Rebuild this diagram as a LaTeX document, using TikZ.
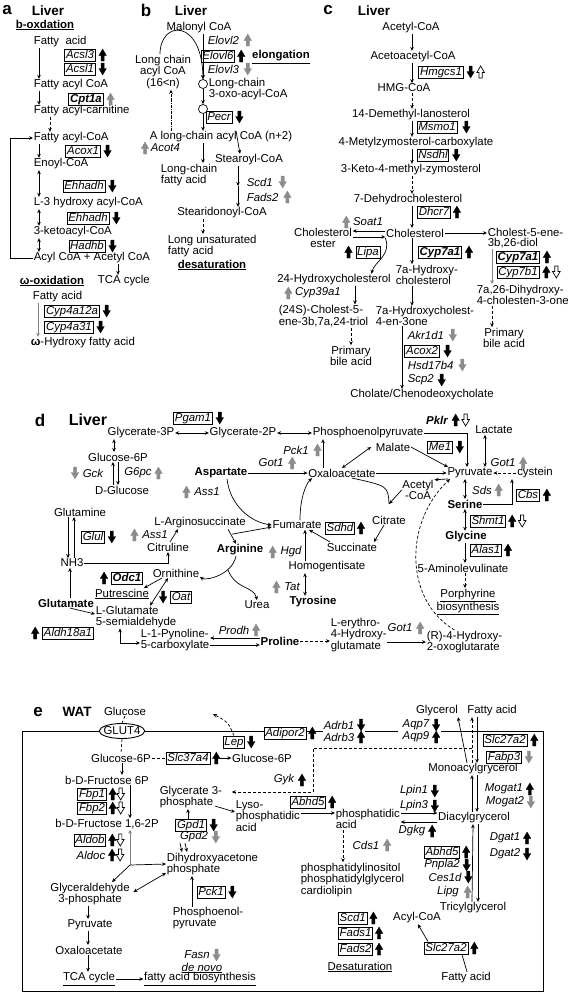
\documentclass[tikz,border=0pt]{standalone}
\usepackage{fontspec}
\setmainfont{Liberation Sans}
\usetikzlibrary{arrows.meta,shapes.geometric}
\newcommand\pletter{\fontsize{17}{17}\selectfont\bfseries}
\newcommand\ptitle{\fontsize{13.5}{14}\selectfont\bfseries}
\tikzset{
  gene/.style={draw,fill=white,line width=0.8pt,font=\itshape,inner xsep=1.3pt,inner ysep=0.8pt,text height=8.3pt,text depth=2.2pt},
  bgene/.style={gene,font=\bfseries\itshape},
  enz/.style={font=\itshape},
  lbl/.style={font=\bfseries},
  pics/fcup/.style={code={\filldraw[#1] (-1.6,6) -- (-1.6,0.5) -- (-3.8,0.5) -- (0,-6) -- (3.8,0.5) -- (1.6,0.5) -- (1.6,6) -- cycle;}},
  pics/fcdn/.style={code={\filldraw[#1] (-1.6,-6) -- (-1.6,-0.5) -- (-3.8,-0.5) -- (0,6) -- (3.8,-0.5) -- (1.6,-0.5) -- (1.6,-6) -- cycle;}},
  fb/.style={fill=black,draw=black,line width=0.3pt},
  fg/.style={fill=black!45,draw=black!45,line width=0.3pt},
  fw/.style={fill=white,draw=black,line width=0.7pt},
}
\begin{document}
\fontsize{11.4}{10.4}\selectfont
\begin{tikzpicture}[x=1pt,y=-1pt,line width=0.7pt,>={Stealth[length=4pt,width=3.6pt]},every node/.style={inner sep=0.5pt}]
  \useasboundingbox (0,0) rectangle (568,994);
  \node[font=\pletter]          (la)     at (  7, 10) {a};
  \node[font=\ptitle]           (liva)   at ( 48, 11) {Liver};
  \node[lbl]                    (boxd)   at ( 45, 25) {\underline{b-oxdation}};
  \node[anchor=west]            (fa1)    at ( 33, 42) {Fatty\ \ acid};
  \node[gene]                   (acsl3)  at ( 80, 55) {Acsl3};
  \node[gene]                   (acsl1)  at ( 80, 69) {Acsl1};
  \node[anchor=west]            (fac1)   at ( 33, 85) {Fatty acyl CoA};
  \node[bgene]                  (cpt1a)  at ( 86, 99) {Cpt1a};
  \node[anchor=west]            (facar)  at ( 33,111) {Fatty acyl-carnitine};
  \node[anchor=west]            (fac2)   at ( 33,138) {Fatty acyl-CoA};
  \node[gene]                   (acox1)  at ( 83,151) {Acox1};
  \node[anchor=west]            (enoyl)  at ( 33,164) {Enoyl-CoA};
  \node[gene]                   (ehh1)   at ( 84,186) {Ehhadh};
  \node[anchor=west]            (l3h)    at ( 33,203) {L-3 hydroxy acyl-CoA};
  \node[gene]                   (ehh2)   at ( 88,218) {Ehhadh};
  \node[anchor=west]            (keto)   at ( 33,232) {3-ketoacyl-CoA};
  \node[gene]                   (hadhb)  at ( 87,246) {Hadhb};
  \node[anchor=west]            (acyl)   at ( 33,258) {Acyl CoA + Acetyl CoA};
  \node[lbl]                    (omox)   at ( 52,281) {\underline{ω-oxidation}};
  \node[anchor=west]            (tca)    at ( 97,281) {TCA cycle};
  \node[anchor=west]            (fa2)    at ( 32,297) {Fatty acid};
  \node[gene]                   (cyp12)  at ( 72,311) {Cyp4a12a};
  \node[gene]                   (cyp31)  at ( 69,327) {Cyp4a31};
  \node[anchor=west]            (ohfa)   at ( 30,343) {\textbf{ω}-Hydroxy fatty acid};
  \pic at ([xshift=7pt]acsl3.east) {fcup=fb};
  \pic at ([xshift=7pt]acsl1.east) {fcdn=fb};
  \pic at ([xshift=7pt]cpt1a.east) {fcup=fg};
  \pic at ([xshift=7pt]acox1.east) {fcdn=fb};
  \pic at ([xshift=7pt]ehh1.east)  {fcdn=fb};
  \pic at ([xshift=7pt]ehh2.east)  {fcdn=fb};
  \pic at ([xshift=7pt]hadhb.east) {fcdn=fb};
  \pic at ([xshift=7pt]cyp12.east) {fcdn=fb};
  \pic at ([xshift=7pt]cyp31.east) {fcdn=fb};
  \draw[->]  ([xshift=6pt]fa1.south west)   -- ([xshift=6pt]fac1.north west);
  \draw[->]  ([xshift=6pt]fac1.south west)  -- ([xshift=6pt]facar.north west);
  \draw[->,densely dashed] ([xshift=17pt]facar.south west) -- ([xshift=17pt]fac2.north west);
  \draw[->]  ([xshift=6pt]fac2.south west)  -- ([xshift=6pt]enoyl.north west);
  \draw[<->] ([xshift=6pt]enoyl.south west) -- ([xshift=6pt]l3h.north west);
  \draw[<->] ([xshift=6pt]l3h.south west)   -- ([xshift=6pt]keto.north west);
  \draw[<->] ([xshift=6pt]keto.south west)  -- ([xshift=6pt]acyl.north west);
  \draw[->]  (acyl.west) -- ++(-23,0) |- (fac2.west);
  \draw[->]  ([xshift=85pt]acyl.south west) -- ([xshift=21pt]tca.north west);
  \draw[->,black!50] ([xshift=6pt]fa2.south west) -- ([xshift=8pt]ohfa.north west);

  \node[font=\pletter]          (lb)     at (146, 10) {b};
  \node[font=\ptitle]           (livb)   at (191, 11) {Liver};
  \node                         (malo)   at (199, 28) {Malonyl CoA};
  \node[enz,anchor=west]        (elo2)   at (207, 40) {Elovl2};
  \node[gene]                   (elo6)   at (218, 56) {Elovl6};
  \node[lbl]                    (elong)  at (281, 57) {\underline{elongation}};
  \node[enz,anchor=west]        (elo3)   at (207, 69) {Elovl3};
  \node[align=center]           (lcac)   at (163, 72) {Long chain\\acyl CoA\\(16<n)};
  \node[circle,draw,minimum size=9pt,inner sep=0pt] (cir1) at (203, 84) {};
  \node[anchor=west,align=left] (oxo)    at (208, 89) {Long-chain\\3-oxo-acyl-CoA};
  \node[circle,draw,minimum size=9pt,inner sep=0pt] (cir2) at (203,109) {};
  \node[gene]                   (pecr)   at (219,117) {Pecr};
  \node                         (alc)    at (221,137) {A long-chain acyl CoA (n+2)};
  \node[enz,anchor=west]        (acot)   at (150,148) {Acot4};
  \node                         (stea)   at (249,160) {Stearoyl-CoA};
  \node[anchor=west,align=left] (lcfa)   at (160,175) {Long-chain\\fatty acid};
  \node[enz,anchor=west]        (scd1b)  at (246,182) {Scd1};
  \node[enz,anchor=west]        (fads2b) at (246,197) {Fads2};
  \node                         (sted)   at (222,213) {Stearidonoyl-CoA};
  \node[anchor=west,align=left] (lufa)   at (167,246) {Long unsaturated\\fatty acid};
  \node[lbl]                    (desb)   at (212,265) {\underline{desaturation}};
  \coordinate                   (sm)     at (238,186);
  \pic at ([xshift=8pt]elo2.east)   {fcup=fg};
  \pic at ([xshift=6pt]elo6.east)   {fcup=fb};
  \pic at ([xshift=8pt]elo3.east)   {fcdn=fg};
  \pic at ([xshift=7pt]pecr.east)   {fcdn=fb};
  \pic at ([xshift=-5pt]acot.west)  {fcup=fg};
  \pic at ([xshift=9pt]scd1b.east)  {fcdn=fg};
  \pic at ([xshift=8pt]fads2b.east) {fcup=fg};
  \draw[->] (malo.south -| cir1) -- (cir1.north);
  \draw[->] ([xshift=-3pt]lcac.north) .. controls (160,20) and (202,18) .. (cir1.north);
  \draw[->] (cir1.south) -- (cir2.north);
  \draw[->] (cir2.south) -- (alc.north -| cir2);
  \draw[->,densely dashdotted] ([xshift=8pt]lcac.south |- alc.north) -- ([xshift=8pt]lcac.south);
  \draw[->] (alc.south -| cir2) -- (lcfa.north -| cir2);
  \draw[->] ([xshift=87pt]alc.north west) -- ([xshift=-9pt]stea.north);
  \draw[->] (stea.south -| sm) -- (sm);
  \draw[->] (sm) -- (sted.north -| sm);
  \draw[->,densely dashed] (sted.south -| cir2) -- (lufa.north -| cir2);

  \node[font=\pletter]          (lc)     at (328, 10) {c};
  \node[font=\ptitle]           (livc)   at (374, 11) {Liver};
  \coordinate                   (cx)     at (412,  0);
  \node                         (acc)    at (411, 28) {Acetyl-CoA};
  \node                         (aacc)   at (413, 57) {Acetoacetyl-CoA};
  \node[gene]                   (hmgcs1) at (441, 72) {Hmgcs1};
  \node                         (hmg)    at (404, 88) {HMG-CoA};
  \node                         (dml)    at (411,115) {14-Demethyl-lanosterol};
  \node[gene]                   (msmo1)  at (437,127) {Msmo1};
  \node                         (mzc)    at (416,143) {4-Metylzymosterol-carboxylate};
  \node[gene]                   (nsdhl)  at (433,155) {Nsdhl};
  \node                         (kmz)    at (411,170) {3-Keto-4-methyl-zymosterol};
  \node                         (dhc)    at (408,200) {7-Dehydrocholesterol};
  \node[gene]                   (dhcr7)  at (434,212) {Dhcr7};
  \node[enz]                    (soat)   at (368,222) {Soat1};
  \node[align=center]           (chest)  at (323,238) {Cholesterol\\ester};
  \node                         (chol)   at (415,233) {Cholesterol};
  \node[anchor=west,align=left] (c5e)    at (487,238) {Cholest-5-ene-\\3b,26-diol};
  \node[gene]                   (lipa)   at (368,252) {Lipa};
  \node[bgene]                  (cyp7a)  at (440,252) {Cyp7a1};
  \node[bgene]                  (cyp7a2) at (518,257) {Cyp7a1};
  \node[gene]                   (cyp7b1) at (518,272) {Cyp7b1};
  \node[anchor=west,align=left] (h7a)    at (395,275) {7a-Hydroxy-\\cholesterol};
  \node                         (h24)    at (334,280) {24-Hydroxycholesterol};
  \node[enz]                    (cyp39)  at (318,293) {Cyp39a1};
  \node[anchor=west,align=left] (d26)    at (476,295) {7a,26-Dihydroxy-\\4-cholesten-3-one};
  \node[anchor=west,align=left] (ch5)    at (278,316) {(24S)-Cholest-5-\\ene-3b,7a,24-triol};
  \node[anchor=west,align=left] (h7c)    at (375,316) {7a-Hydroxycholest-\\4-en-3one};
  \node[align=center]           (pba2)   at (504,338) {Primary\\bile acid};
  \node[enz,anchor=west]        (akr)    at (407,335) {Akr1d1};
  \node[gene]                   (acox2)  at (422,351) {Acox2};
  \node[align=center]           (pba1)   at (351,356) {Primary\\bile acid};
  \node[enz,anchor=west]        (hsd)    at (407,365) {Hsd17b4};
  \node[enz,anchor=west]        (scp2)   at (407,380) {Scp2};
  \node                         (chen)   at (422,395) {Cholate/Chenodeoxycholate};
  \pic at ([xshift=7pt]hmgcs1.east)  {fcdn=fb};
  \pic at ([xshift=17pt]hmgcs1.east) {fcup=fw};
  \pic at ([xshift=9pt]msmo1.east)   {fcdn=fb};
  \pic at ([xshift=7pt]nsdhl.east)   {fcdn=fb};
  \pic at ([xshift=6pt]dhcr7.east)   {fcup=fb};
  \pic at ([xshift=-6pt]soat.west)   {fcup=fg};
  \pic at ([xshift=-7pt]lipa.west)   {fcup=fb};
  \pic at ([xshift=7pt]cyp7a.east)   {fcup=fb};
  \pic at ([xshift=7pt]cyp7a2.east)  {fcup=fb};
  \pic at ([xshift=7pt]cyp7b1.east)  {fcup=fb};
  \pic at ([xshift=17pt]cyp7b1.east) {fcdn=fw};
  \pic at ([xshift=-6pt]cyp39.west)  {fcup=fg};
  \pic at ([xshift=8pt]akr.east)     {fcdn=fg};
  \pic at ([xshift=8pt]acox2.east)   {fcdn=fb};
  \pic at ([xshift=8pt]hsd.east)     {fcdn=fg};
  \pic at ([xshift=7pt]scp2.east)    {fcdn=fb};
  \draw[->] (acc.south -| cx)  -- (aacc.north -| cx);
  \draw[->] (aacc.south -| cx) -- (hmg.north -| cx);
  \draw[->,densely dashed] (hmg.south -| cx) -- (dml.north -| cx);
  \draw[->] (dml.south -| cx)  -- (mzc.north -| cx);
  \draw[->] (mzc.south -| cx)  -- (kmz.north -| cx);
  \draw[->,densely dashed] (kmz.south -| cx) -- (dhc.north -| cx);
  \draw[->] (dhc.south -| cx)  -- (chol.north -| cx);
  \draw[->] ([yshift=2pt]chol.west) -- ([yshift=2pt]chol.west -| chest.east);
  \draw[->] ([yshift=-4pt]chol.west -| chest.east) -- ([yshift=-4pt]chol.west);
  \draw[->] (chol.south west) .. controls (392,255) and (374,262) .. ([xshift=-20pt]h24.north east);
  \draw[->] (chol.east) -- (c5e.west |- chol.east);
  \draw[->] (chol.south -| cx) -- (h7a.north -| cx);
  \draw[->] (h7a.south -| cx)  -- (h7c.north -| cx);
  \draw[->,black!50] ([xshift=5pt]c5e.south west) -- ([xshift=16pt]d26.north west);
  \draw[->,densely dashed] ([xshift=16pt]d26.south west) -- ([xshift=-12pt]pba2.north);
  \draw[->] ([xshift=21pt]h24.south) -- ([xshift=21pt]h24.south |- ch5.north);
  \draw[->,densely dashed] (ch5.south -| pba1) -- (pba1.north);
  \draw[->] ([xshift=27pt]h7c.south west) -- ([xshift=27pt]h7c.south west |- chen.north);

  \node[font=\pletter]          (ld)     at ( 40,420) {d};
  \node[font=\fontsize{16}{16}\selectfont\bfseries] (livd) at (88,420) {Liver};
  \node[gene]                   (pgam1)  at (193,418) {Pgam1};
  \node[font=\bfseries\itshape] (pklr)   at (437,420) {Pklr};
  \node                         (g3p)    at (141,433) {Glycerate-3P};
  \node                         (g2p)    at (243,433) {Glycerate-2P};
  \node                         (pep)    at (368,433) {Phosphoenolpyruvate};
  \node                         (lact)   at (494,430) {Lactate};
  \node                         (mal)    at (393,447) {Malate};
  \node[gene]                   (me1)    at (440,447) {Me1};
  \node[enz]                    (pck1d)  at (296,450) {Pck1};
  \node                         (g6p)    at (118,457) {Glucose-6P};
  \node[enz]                    (got1a)  at (271,463) {Got1};
  \node[enz]                    (got1c)  at (503,463) {Got1};
  \node[enz]                    (gck)    at ( 93,473) {Gck};
  \node[enz]                    (g6pc)   at (138,473) {G6pc};
  \node[lbl]                    (asp)    at (221,473) {Aspartate};
  \node                         (oaa)    at (342,473) {Oxaloacetate};
  \node                         (pyr)    at (470,473) {Pyruvate};
  \node                         (cys)    at (535,473) {cystein};
  \node[align=center]           (acoa)   at (418,490) {Acetyl\\-CoA};
  \node                         (dglc)   at (122,490) {D-Glucose};
  \node[enz]                    (sds)    at (482,490) {Sds};
  \node[enz]                    (ass1b)  at (207,492) {Ass1};
  \node[gene]                   (cbs)    at (528,495) {Cbs};
  \node[lbl]                    (ser)    at (465,504) {Serine};
  \coordinate                   (cj)     at (389,504);
  \node                         (gln)    at ( 80,512) {Glutamine};
  \node                         (citr)   at (389,520) {Citrate};
  \node[gene]                   (shmt1)  at (488,521) {Shmt1};
  \node                         (arsu)   at (200,523) {L-Arginosuccinate};
  \node                         (fum)    at (297,525) {Fumarate};
  \node[gene]                   (sdhd)   at (340,528) {Sdhd};
  \node[enz]                    (ass1a)  at (155,535) {Ass1};
  \node[gene]                   (glul)   at ( 93,537) {Glul};
  \node[lbl]                    (gly)    at (466,537) {Glycine};
  \node                         (cit)    at (168,547) {Citruline};
  \node                         (succ)   at (352,547) {Succinate};
  \node[lbl]                    (arg)    at (240,550) {Arginine};
  \node[gene]                   (alas1)  at (486,550) {Alas1};
  \node[enz]                    (hgd)    at (291,552) {Hgd};
  \node                         (nh3)    at ( 72,563) {NH3};
  \node                         (hom)    at (327,567) {Homogentisate};
  \node                         (ala)    at (463,568) {5-Aminolevulinate};
  \node                         (orn)    at (176,573) {Ornithine};
  \coordinate                   (argb)   at (228,570);
  \node[bgene]                  (odc1)   at (127,578) {Odc1};
  \node[enz]                    (tat)    at (292,587) {Tat};
  \node[gene]                   (oat)    at (181,597) {Oat};
  \node[align=center]           (porph)  at (468,602) {\underline{Porphyrine}\\\underline{biosynthesis}};
  \node                         (put)    at (122,594) {\underline{Putrescine}};
  \node[lbl]                    (glu)    at ( 66,603) {Glutamate};
  \node[lbl]                    (tyr)    at (313,602) {Tyrosine};
  \node                         (urea)   at (257,605) {Urea};
  \node[anchor=west,align=left] (lgsa)   at ( 95,617) {L-Glutamate\\5-semialdehyde};
  \node[enz]                    (got1b)  at (400,628) {Got1};
  \node[enz]                    (prodh)  at (234,630) {Prodh};
  \node[gene]                   (aldh)   at ( 68,633) {Aldh18a1};
  \node[anchor=west,align=left] (ehg)    at (330,635) {L-erythro-\\4-Hydroxy-\\glutamate};
  \node[anchor=west,align=left] (p5c)    at (140,640) {L-1-Pynoline-\\5-carboxylate};
  \node[lbl]                    (pro)    at (280,641) {Proline};
  \node[anchor=west,align=left] (rho)    at (426,642) {(R)-4-Hydroxy-\\2-oxoglutarate};
  \pic at ([xshift=7pt]pgam1.east)  {fcdn=fb};
  \pic at ([xshift=7pt]pklr.east)   {fcup=fb};
  \pic at ([xshift=17pt]pklr.east)  {fcdn=fw};
  \pic at ([xshift=7pt]me1.east)    {fcdn=fb};
  \pic at ([xshift=8pt]pck1d.east)  {fcup=fg};
  \pic at ([xshift=8pt]got1a.east)  {fcup=fg};
  \pic at ([xshift=7pt]got1c.east)  {fcup=fg};
  \pic at ([xshift=-7pt]gck.west)   {fcdn=fg};
  \pic at ([xshift=6pt]g6pc.east)   {fcup=fg};
  \pic at ([xshift=-7pt]ass1b.west) {fcup=fg};
  \pic at ([xshift=-7pt]ass1a.west) {fcup=fg};
  \pic at ([xshift=6pt]sds.east)    {fcup=fg};
  \pic at ([xshift=7pt]cbs.east)    {fcup=fb};
  \pic at ([xshift=6pt]shmt1.east)  {fcup=fb};
  \pic at ([xshift=16pt]shmt1.east) {fcdn=fw};
  \pic at ([xshift=6pt]sdhd.east)   {fcup=fb};
  \pic at ([xshift=6pt]alas1.east)  {fcup=fb};
  \pic at ([xshift=-7pt]hgd.west)   {fcup=fg};
  \pic at ([xshift=-7pt]tat.west)   {fcup=fg};
  \pic at ([xshift=-7pt]odc1.west)  {fcup=fb};
  \pic at ([xshift=-7pt]oat.west)   {fcdn=fb};
  \pic at ([xshift=7pt]got1b.east)  {fcup=fg};
  \pic at ([xshift=6pt]prodh.east)  {fcup=fg};
  \pic at ([xshift=-7pt]aldh.west)  {fcup=fb};
  \pic at ([xshift=7pt]glul.east)   {fcdn=fb};
  \draw[<->] (g3p.east) -- (g2p.west);
  \draw[<->] (g2p.east) -- (pep.west);
  \draw[<->] ([xshift=-27pt]g3p.south) -- ([xshift=-4pt]g6p.north);
  \draw[->]  ([xshift=-9pt]dglc.north) -- ([xshift=-5pt]g6p.south);
  \draw[->]  (g6p.south) -- ([xshift=-4pt]dglc.north);
  \draw[->]  ([xshift=-12pt]gln.south) -- ([xshift=-4pt]nh3.north);
  \draw[->]  ([xshift=2pt]nh3.north) -- ([xshift=-6pt]gln.south);
  \draw[->]  ([xshift=4pt]glu.north) -- ([xshift=-2pt]nh3.south);
  \draw[->]  (nh3.east) -| (cit.south);
  \draw[->]  ([xshift=2pt]cit.north) -- ([xshift=-22pt]arsu.south);
  \draw[->]  ([xshift=-14pt]orn.south) -- ([xshift=22pt]put.north);
  \draw[<->] ([xshift=-8pt]orn.south) -- ([xshift=55pt]lgsa.north west);
  \draw[->]  ([xshift=4pt]glu.south) -- ([yshift=3pt]lgsa.west);
  \draw[<->] ([xshift=25pt]lgsa.south west) |- ([yshift=-3pt]p5c.west);
  \draw[->]  (asp.east) -- (oaa.west);
  \draw[->]  ([xshift=-19pt]oaa.north) -- ([xshift=-45pt]pep.south);
  \draw[->]  ([xshift=6pt]asp.south) .. controls (230,505) and (250,522) .. (fum.west);
  \draw[->]  ([xshift=28pt]arsu.south) -- ([xshift=-4pt]arg.north);
  \draw[->]  ([xshift=32pt,yshift=-5pt]arsu.south) -- ([yshift=-2pt]fum.west);
  \draw[->]  ([xshift=-22pt]succ.north) -- ([xshift=12pt]fum.south);
  \draw[->]  ([xshift=3pt]fum.north) .. controls (300,500) and (305,485) .. ([xshift=-30pt]oaa.south);
  \draw[->]  ([xshift=-22pt]hom.north) -- ([xshift=8pt]fum.south);
  \draw[<->] ([xshift=-22pt]hom.south) -- ([xshift=-8pt]tyr.north);
  \draw[->]  ([xshift=-4pt]arg.south) .. controls (232,575) and (206,581) .. ([yshift=-4pt]orn.east);
  \draw[->]  (argb) .. controls (236,590) and (254,586) .. (urea.north);
  \draw[->]  ([yshift=3pt]pro.west) -- ([yshift=3pt]pro.west -| p5c.east);
  \draw[->]  ([yshift=-4pt]pro.west -| p5c.east) -- ([yshift=-4pt]pro.west);
  \draw[->,densely dashed] (pro.east) -- (ehg.west |- pro.east);
  \draw[->]  (ehg.east |- rho.west) -- (rho.west);
  \draw[<->] (oaa.north) -- ([xshift=-4pt]mal.west);
  \draw[->]  (mal.east) -- ([xshift=-22pt]pyr.north);
  \draw[->]  (pep.east) -| ([xshift=-3pt]pyr.north);
  \draw[->]  (oaa.east) -- (pyr.west);
  \draw[<->] ([xshift=-9pt]lact.south) -- ([xshift=15pt]pyr.north);
  \draw[->,densely dashed] (cys.west) -- (pyr.east);
  \draw[->]  ([xshift=-22pt]pyr.south) -- (acoa.north east);
  \draw      ([xshift=10pt]oaa.south) .. controls (388,486) .. (cj);
  \draw[->]  (acoa.west) -- (cj);
  \draw[->]  ([xshift=-5pt]citr.south) -- ([xshift=22pt]succ.north);
  \draw[<->] ([xshift=-5pt]pyr.south) -- (ser.north);
  \draw[->]  (ser.east) -| ([xshift=-23pt]cys.south);
  \draw[<->] (ser.south) -- ([xshift=-1pt]gly.north);
  \draw[->]  ([xshift=-1pt]gly.south) -- ([xshift=2pt]ala.north);
  \draw[->,densely dashed] ([xshift=2pt]ala.south) -- ([xshift=-3pt]porph.north);
  \draw[->,densely dashed] ([xshift=-10pt]rho.north) .. controls (404,600) and (404,522) .. ([xshift=-20pt]pyr.south);

  \draw (323,731) -- (22,731) -- (22,991) -- (543,991) -- (543,731) -- (441,731);
  \draw (365,731) -- (398,731);
  \node[font=\pletter]          (le)     at ( 38,712) {e};
  \node[font=\ptitle]           (wat)    at ( 77,712) {WAT};
  \node                         (glc)    at (125,711) {Glucose};
  \node                         (glyc)   at (437,711) {Glycerol};
  \node                         (fae1)   at (492,711) {Fatty acid};
  \node[ellipse,draw,fill=white,line width=0.9pt,inner xsep=-2.3pt,inner ysep=0.3pt,text height=8pt,text depth=2pt] (glut4) at (122,731) {GLUT4};
  \node                         (g6pe)   at (121,758) {Glucose-6P};
  \node[gene]                   (slc37)  at (188,758) {Slc37a4};
  \node                         (g6pr)   at (262,758) {Glucose-6P};
  \node[gene]                   (lep)    at (234,742) {Lep};
  \node[gene]                   (adipor2) at (285,733) {Adipor2};
  \node[enz]                    (adrb1)  at (339,725) {Adrb1};
  \node[enz]                    (adrb3)  at (339,737) {Adrb3};
  \node[enz]                    (aqp7)   at (416,725) {Aqp7};
  \node[enz]                    (aqp9)   at (416,737) {Aqp9};
  \node[gene]                   (slc27a) at (505,740) {Slc27a2};
  \node[gene]                   (fabp3)  at (504,757) {Fabp3};
  \node                         (mag)    at (473,769) {Monoacylgrycerol};
  \coordinate                   (gk1)    at (472,748);
  \coordinate                   (gk2)    at (313,792);
  \coordinate                   (lepout) at (213,714);
  \node                         (f6p)    at (107,780) {b-D-Fructose 6P};
  \node[enz]                    (gyk)    at (284,780) {Gyk};
  \node[enz]                    (mogat1) at (504,789) {Mogat1};
  \node[enz]                    (lpin1)  at (414,791) {Lpin1};
  \node[gene]                   (fbp1)   at ( 92,794) {Fbp1};
  \node[anchor=west,align=left] (g3pe)   at (159,797) {Glycerate 3-\\phosphate};
  \node[gene]                   (abhd5a) at (308,802) {Abhd5};
  \node[enz]                    (mogat2) at (505,802) {Mogat2};
  \node[enz]                    (lpin3)  at (414,806) {Lpin3};
  \node[gene]                   (fbp2)   at ( 92,808) {Fbp2};
  \node[anchor=west,align=left] (lpa)    at (235,816) {Lyso-\\phosphatidic\\acid};
  \node[anchor=west,align=left] (phac)   at (335,819) {phosphatidic\\acid};
  \node                         (dag)    at (474,818) {Diacylgrycerol};
  \node                         (f16)    at (107,824) {b-D-Fructose 1,6-2P};
  \node[gene]                   (gpd1)   at (191,825) {Gpd1};
  \node[enz]                    (dgkg)   at (412,831) {Dgkg};
  \node[enz]                    (gpd2)   at (194,837) {Gpd2};
  \node[enz]                    (dgat1)  at (505,838) {Dgat1};
  \node[gene]                   (aldob)  at ( 90,840) {Aldob};
  \node[enz]                    (cds1)   at (366,845) {Cds1};
  \node[gene]                   (abhd5b) at (442,852) {Abhd5};
  \node[enz]                    (dgat2)  at (505,854) {Dgat2};
  \node[enz]                    (aldoc)  at ( 91,855) {Aldoc};
  \node[anchor=west,align=left] (dhap)   at (166,864) {Dihydroxyacetone\\phosphate};
  \coordinate                   (br)     at (130,865);
  \node[enz]                    (pnpla2) at (442,865) {Pnpla2};
  \node[enz]                    (ces1d)  at (445,877) {Ces1d};
  \node[anchor=west,align=left] (pig)    at (300,880) {phosphatidylinositol\\phosphatidylglycerol\\cardiolipin};
  \node[gene]                   (pck1e)  at (211,892) {Pck1};
  \node[enz]                    (lipg)   at (448,892) {Lipg};
  \node[align=center]           (gap)    at ( 90,894) {Glyceraldehyde\\3-phosphate};
  \node                         (tag)    at (473,908) {Tricylglycerol};
  \node[anchor=west,align=left] (pepe)   at (172,918) {Phosphoenol-\\pyruvate};
  \node[gene,anchor=west]       (scd1e)  at (338,918) {Scd1};
  \node                         (acoae)  at (417,918) {Acyl-CoA};
  \node                         (pyre)   at ( 90,925) {Pyruvate};
  \node[gene,anchor=west]       (fads1e) at (338,933) {Fads1};
  \node[gene]                   (slc27b) at (446,948) {Slc27a2};
  \node[gene,anchor=west]       (fads2e) at (338,949) {Fads2};
  \node                         (oaae)   at ( 89,950) {Oxaloacetate};
  \node[enz]                    (fasn)   at (197,955) {Fasn};
  \node                         (desat)  at (360,967) {\underline{Desaturation}};
  \node[enz]                    (denovo) at (202,968) {\underline{de novo}};
  \node                         (fae2)   at (466,978) {Fatty acid};
  \node                         (tcae)   at ( 89,979) {\underline{TCA cycle}};
  \node                         (fab)    at (200,979) {\underline{fatty acid biosynthesis}};
  \pic at ([xshift=6pt]slc37.east)   {fcup=fb};
  \pic at ([xshift=6pt]lep.east)     {fcdn=fb};
  \pic at ([xshift=6pt]adipor2.east) {fcup=fb};
  \pic at ([xshift=6pt]adrb1.east)   {fcdn=fb};
  \pic at ([xshift=6pt]adrb3.east)   {fcup=fb};
  \pic at ([xshift=6pt]aqp7.east)    {fcdn=fb};
  \pic at ([xshift=6pt]aqp9.east)    {fcup=fb};
  \pic at ([xshift=7pt]slc27a.east)  {fcup=fb};
  \pic at ([xshift=7pt]fabp3.east)   {fcdn=fg};
  \pic at ([xshift=7pt]gyk.east)     {fcup=fb};
  \pic at ([xshift=6pt]fbp1.east)    {fcup=fb};
  \pic at ([xshift=14pt]fbp1.east)   {fcdn=fw};
  \pic at ([xshift=6pt]fbp2.east)    {fcup=fb};
  \pic at ([xshift=14pt]fbp2.east)   {fcdn=fw};
  \pic at ([xshift=6pt]aldob.east)   {fcup=fb};
  \pic at ([xshift=14pt]aldob.east)  {fcdn=fw};
  \pic at ([xshift=6pt]aldoc.east)   {fcup=fb};
  \pic at ([xshift=14pt]aldoc.east)  {fcdn=fw};
  \pic at ([xshift=6pt]abhd5a.east)  {fcup=fb};
  \pic at ([xshift=6pt]mogat1.east)  {fcup=fb};
  \pic at ([xshift=6pt]mogat2.east)  {fcdn=fg};
  \pic at ([xshift=6pt]lpin1.east)   {fcdn=fb};
  \pic at ([xshift=6pt]lpin3.east)   {fcdn=fb};
  \pic at ([xshift=7pt]gpd1.east)    {fcdn=fb};
  \pic at ([xshift=7pt]gpd2.east)    {fcdn=fg};
  \pic at ([xshift=6pt]dgkg.east)    {fcup=fb};
  \pic at ([xshift=6pt]dgat1.east)   {fcup=fb};
  \pic at ([xshift=6pt]dgat2.east)   {fcdn=fb};
  \pic at ([xshift=7pt]cds1.east)    {fcup=fg};
  \pic at ([xshift=6pt]abhd5b.east)  {fcup=fb};
  \pic at ([xshift=6pt]pnpla2.east)  {fcdn=fb};
  \pic at ([xshift=6pt]ces1d.east)   {fcdn=fb};
  \pic at ([xshift=8pt]lipg.east)    {fcup=fg};
  \pic at ([xshift=7pt]pck1e.east)   {fcdn=fb};
  \pic at ([xshift=6pt]scd1e.east)   {fcup=fb};
  \pic at ([xshift=6pt]fads1e.east)  {fcup=fb};
  \pic at ([xshift=6pt]fads2e.east)  {fcup=fb};
  \pic at ([xshift=6pt]slc27b.east)  {fcup=fb};
  \pic at ([xshift=6pt]fasn.east)    {fcdn=fg};
  \draw[densely dashed] (glc.south) -- (glut4.north);
  \draw[densely dashed] (glut4.south) -- (g6pe.north);
  \draw[densely dashed] (g6pe.east) -- (slc37.west);
  \draw[->] ([xshift=10pt]slc37.east) -- (g6pr.west);
  \draw[->,densely dashed] (lep.north) .. controls (228,722) .. (lepout);
  \draw[->] ([xshift=-6pt]mag.north) -- ([xshift=21pt]glyc.south);
  \draw[->,densely dashed] ([xshift=-1pt]mag.north) -- ([xshift=-20pt]fae1.south);
  \draw[->] ([xshift=-15pt]fae1.south) -- ([xshift=4pt]mag.north);
  \draw[->,densely dashed] (gk1) -| (gk2) -- ([xshift=9pt]g3pe.east |- gk2);
  \draw[->] ([xshift=1pt]g6pe.south) -- ([xshift=15pt]f6p.north);
  \draw[->] ([xshift=23pt]f6p.south) -- ([xshift=23pt]f16.north);
  \draw[->,black!50] (br) -- ([xshift=23pt]f16.south);
  \draw[->] (br) -- ([xshift=22pt]gap.north);
  \draw[->] (br) -- (dhap.west);
  \draw[<->] ([xshift=3pt,yshift=2pt]gap.east) -- ([yshift=-9pt]dhap.west);
  \draw[->] ([xshift=-2pt]gap.south) -- ([xshift=-2pt]pyre.north);
  \draw[->] ([xshift=-2pt]pyre.south) -- ([xshift=-1pt]oaae.north);
  \draw[->] ([xshift=-1pt]oaae.south) -- ([xshift=-1pt]tcae.north);
  \draw[->] (tcae.east) -- (fab.west);
  \draw[->] ([xshift=-8pt,yshift=3pt]g3pe.south east) -- ([yshift=4pt]lpa.west);
  \draw[->] ([yshift=3pt]lpa.east) -- ([yshift=6pt]phac.west);
  \draw[->,densely dashed] ([xshift=8pt]phac.south west) -- ([xshift=43pt]pig.north west);
  \draw[->] ([xshift=-3pt]gpd1.north) -- ([xshift=29pt]g3pe.south west);
  \draw[->] ([xshift=-14pt]gpd2.south) -- ([xshift=16pt]dhap.north west);
  \draw[->] ([xshift=-9pt]gpd2.south) -- ([xshift=21pt]dhap.north west);
  \draw[->] ([xshift=20pt]pepe.north west) -- ([xshift=26pt]dhap.south west);
  \draw[->] ([yshift=6pt]phac.east) -- ([yshift=6pt]phac.east -| dag.west);
  \draw[->] ([yshift=-3pt]phac.east -| dag.west) -- ([yshift=-3pt]phac.east);
  \draw[->] ([xshift=-2pt]dag.north) -- ([xshift=-1pt]mag.south);
  \draw[->] ([xshift=4pt]mag.south) -- ([xshift=3pt]dag.north);
  \draw[->] ([xshift=-1pt]tag.north) -- ([xshift=-1pt]dag.south);
  \draw[->] ([xshift=4pt]dag.south) -- ([xshift=5pt]tag.north);
  \draw     ([xshift=1pt]fae2.north) -- ([xshift=16pt]slc27b.south);
  \draw[->] ([xshift=-18pt]slc27b.north) .. controls (423,934) .. ([xshift=1pt]acoae.south);
\end{tikzpicture}
\end{document}
